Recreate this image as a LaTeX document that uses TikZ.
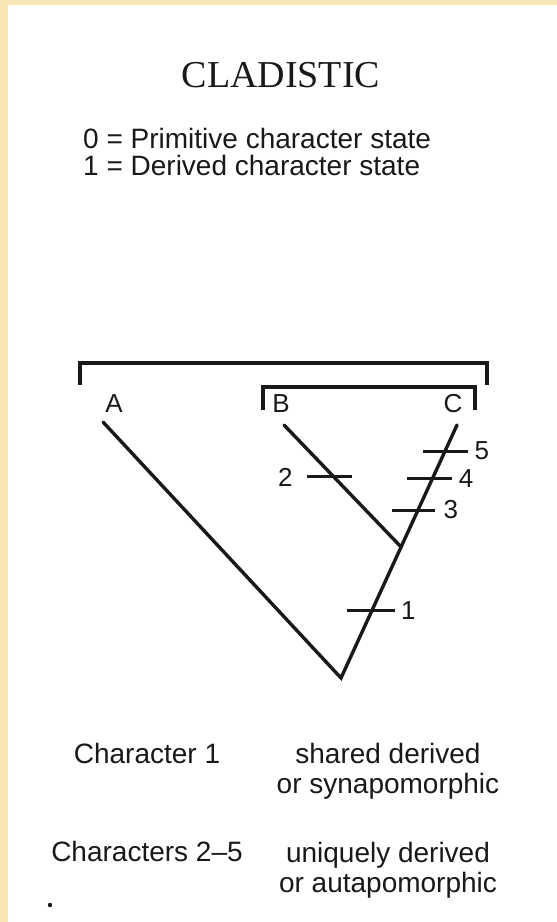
\documentclass[tikz,border=0pt]{standalone}
\usepackage{fontspec}
\setmainfont{Liberation Sans}
\newfontfamily\titlefont{Liberation Serif}
\usepackage{tikz}
\usetikzlibrary{positioning,calc}
\definecolor{cdFrame}{RGB}{246,231,180}
\definecolor{cdInk}{RGB}{25,25,25}

\begin{document}
\begin{tikzpicture}[x=1pt, y=-1pt,
    branch/.style={cdInk, line width=3.4pt, line cap=round},
    clade/.style={cdInk, line width=3.4pt, line join=miter},
    tick/.style={cdInk, line width=3pt},
    taxon/.style={cdInk, inner sep=0pt, font=\fontsize{26}{26}\selectfont},
    charnum/.style={cdInk, inner sep=0pt, font=\fontsize{26}{26}\selectfont},
    keytext/.style={cdInk, inner sep=0pt, font=\fontsize{28}{30}\selectfont, align=center}]
  % Frame
  \useasboundingbox (0,0) rectangle (557,922);
  \fill[cdFrame] (0,0) rectangle (557,922);
  \fill[white] (8,5) rectangle (557,922);

  % Title and legend
  \node[cdInk, inner sep=0pt, anchor=base, font=\titlefont\fontsize{38}{38}\selectfont] (title) at (281,87) {CLADISTIC};
  \node[keytext, anchor=base west] (key0) at (83,148) {0 = Primitive character state};
  \node[keytext, anchor=base west] (key1) at (83,175) {1 = Derived character state};

  % Taxa
  \node[taxon] (A) at (114,404) {A};
  \node[taxon] (B) at (281,404) {B};
  \node[taxon] (C) at (453,404) {C};
  \coordinate (tipA) at (103,422);
  \coordinate (tipB) at (284,425);
  \coordinate (tipC) at (457,425);
  \coordinate (root) at (341,678);
  \coordinate (nodeBC) at ($(root)!0.518!(tipC)$);

  % Clade brackets
  \draw[clade] (80,385) -- (80,363) -- (487,363) -- (487,385);
  \draw[clade] (263,410) -- (263,387) -- (475,387) -- (475,410);

  % Branches
  \draw[branch] (tipA) -- (root) -- (tipC);
  \draw[branch] (tipB) -- (nodeBC);

  % Character changes
  \coordinate (t1) at ($(root)!0.265!(tipC)$);
  \coordinate (t3) at ($(root)!0.664!(tipC)$);
  \coordinate (t4) at ($(root)!0.787!(tipC)$);
  \coordinate (t5) at ($(root)!0.897!(tipC)$);
  \coordinate (t2) at ($(nodeBC)!0.574!(tipB)$);
  \draw[tick] ([xshift=-25]t1) -- ([xshift=23]t1) node[charnum, right=5pt] (n1) {1};
  \draw[tick] ([xshift=-27]t2) -- ([xshift=18]t2);
  \node[charnum, left=14pt of {$(t2)+(-27,0)$}] (n2) {2};
  \draw[tick] ([xshift=-26]t3) -- ([xshift=17]t3) node[charnum, right=7pt] (n3) {3};
  \draw[tick] ([xshift=-25]t4) -- ([xshift=20]t4) node[charnum, right=5pt] (n4) {4};
  \draw[tick] ([xshift=-22]t5) -- ([xshift=23]t5) node[charnum, right=5pt] (n5) {5};

  % Key to characters
  \node[keytext, anchor=base] (syn) at (147,763) {Character 1};
  \node[keytext, anchor=base] (synText) at (388,793) {shared derived\\or synapomorphic};
  \node[keytext, anchor=base] (aut) at (147,861) {Characters 2--5};
  \node[keytext, anchor=base] (autText) at (388,892) {uniquely derived\\or autapomorphic};
  \fill[cdInk] (50,905) circle (2.2);
\end{tikzpicture}
\end{document}
